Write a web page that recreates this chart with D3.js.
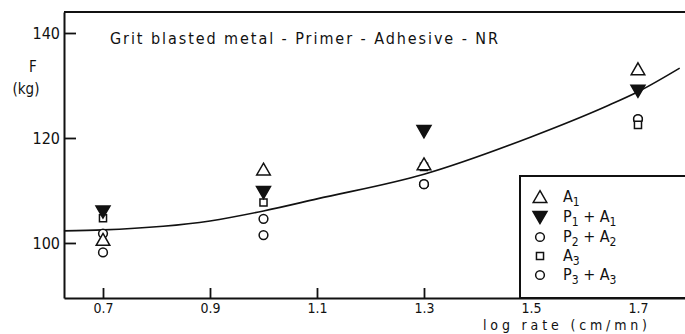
<!DOCTYPE html>
<html><head><meta charset="utf-8">
<script src="https://cdn.jsdelivr.net/npm/d3@7/dist/d3.min.js"></script>
<style>
body{margin:0;background:#fff;}
svg text{font-family:"DejaVu Sans Condensed","DejaVu Sans",sans-serif;fill:#111;}
</style></head>
<body><svg id="c" width="685" height="334"></svg>
<script>
const xTicks = [0.7, 0.9, 1.1, 1.3, 1.5, 1.7];
const yTicks = [100, 120, 140];
const rates = [0.7, 1.0, 1.3, 1.7];
const seriesNames = ["A1", "P1 + A1", "P2 + A2", "A3", "P3 + A3"];
const A1   = [100.6, 114.0, 115.0, 133.1];
const P1A1 = [106.0, 109.7, 121.3, 129.0];
const P2A2 = [101.8, 104.6, 111.2, 123.6];
const A3   = [104.7, 107.7, 114.5, 122.5];
const P3A3 = [98.2, 101.5, 111.2, 123.6];
const curveX = [0.627, 0.7, 0.9, 1.0, 1.1, 1.3, 1.5, 1.64, 1.7, 1.778];
const curveY = [102.3, 102.5, 104.2, 106.1, 108.4, 113.1, 120.2, 126.0, 128.8, 133.3];

const svg = d3.select("#c");
const x = d3.scaleLinear().domain([0.6271, 1.7879]).range([64, 685]);
const y = d3.scaleLinear().domain([89.52, 144.0]).range([298, 12]);
const ink = "#111";

// top border
svg.append("line").attr("x1", 64).attr("x2", 685).attr("y1", 12).attr("y2", 12)
  .attr("stroke", ink).attr("stroke-width", 2);

// axes
const gx = svg.append("g").attr("transform", "translate(0,298)")
  .call(d3.axisBottom(x).tickValues(xTicks).tickFormat(d3.format(".1f")).tickSizeInner(-10).tickSizeOuter(0));
const gy = svg.append("g").attr("transform", "translate(64,0)")
  .call(d3.axisLeft(y).tickValues(yTicks).tickFormat(d3.format("d")).tickSizeInner(-12).tickSizeOuter(0).tickPadding(4));
[gx, gy].forEach(g => {
  g.select(".domain").attr("stroke", ink).attr("stroke-width", 2);
  g.selectAll(".tick line").attr("stroke", ink).attr("stroke-width", 1.8);
  g.selectAll("text").attr("fill", ink).style("font-size", "14px").attr("font-family", null);
});
gx.selectAll("text").attr("dy", null).attr("y", 15);
gy.selectAll("text").style("font-size", "16px").attr("dy", "0.35em");

// axis titles
svg.append("text").attr("x", 33).attr("y", 72).attr("text-anchor", "middle").style("font-size", "15px").text("F");
svg.append("text").attr("x", 26).attr("y", 94).attr("text-anchor", "middle").style("font-size", "15px").text("(kg)");
svg.append("text").attr("x", 483).attr("y", 330).style("font-size", "14px")
  .attr("textLength", 164).attr("lengthAdjust", "spacing").text("log  rate  (cm/mn)");
svg.append("text").attr("x", 110).attr("y", 44).style("font-size", "16px")
  .attr("textLength", 388).attr("lengthAdjust", "spacing").text("Grit  blasted  metal - Primer - Adhesive - NR");

// fitted curve
const pts = curveX.map((v, i) => [v, curveY[i]]);
svg.append("path").datum(pts)
  .attr("d", d3.line().x(d => x(d[0])).y(d => y(d[1])).curve(d3.curveMonotoneX))
  .attr("fill", "none").attr("stroke", ink).attr("stroke-width", 1.6);

// markers
const triUp = d3.symbol().type(d3.symbolTriangle).size(80);
const triDown = d3.symbol().type(d3.symbolTriangle).size(85);
const circ = d3.symbol().type(d3.symbolCircle).size(60);
const sq = d3.symbol().type(d3.symbolSquare).size(50);
const styles = [
  {data: A1, path: triUp(), rot: 0, fill: "#fff", dy: 1.5},
  {data: P1A1, path: triDown(), rot: 180, fill: ink, dy: -1.5},
  {data: P2A2, path: circ(), rot: 0, fill: "#fff", dy: 0},
  {data: A3, path: sq(), rot: 0, fill: "#fff", dy: 0},
  {data: P3A3, path: circ(), rot: 0, fill: "#fff", dy: 0}
];
const drawOrder = [4, 2, 3, 0, 1];
drawOrder.forEach(k => {
  const s = styles[k];
  svg.append("g").selectAll("path").data(s.data).join("path")
    .attr("d", s.path)
    .attr("transform", (d, i) => `translate(${x(rates[i])},${y(d) + s.dy}) rotate(${s.rot})`)
    .attr("fill", s.fill).attr("stroke", ink).attr("stroke-width", 1.5);
});

// legend
svg.append("rect").attr("x", 520).attr("y", 176).attr("width", 200).attr("height", 122)
  .attr("fill", "#fff").attr("stroke", ink).attr("stroke-width", 2);
const legRows = [197, 217, 237, 256, 275];
const legLabels = [["A", "1"], ["P", "1", " + A", "1"], ["P", "2", " + A", "2"], ["A", "3"], ["P", "3", " + A", "3"]];
legRows.forEach((ry, i) => {
  const s = styles[i];
  svg.append("path").attr("d", s.path)
    .attr("transform", `translate(540,${ry + s.dy}) rotate(${s.rot})`)
    .attr("fill", s.fill).attr("stroke", ink).attr("stroke-width", 1.5);
  const t = svg.append("text").attr("x", 563).attr("y", ry + 5).style("font-size", "16px");
  const parts = legLabels[i];
  parts.forEach((p, j) => {
    if (j % 2 === 0) t.append("tspan").attr("dy", j === 0 ? 0 : -4).text(p);
    else t.append("tspan").attr("dy", 4).style("font-size", "12px").text(p);
  });
});
</script></body></html>
